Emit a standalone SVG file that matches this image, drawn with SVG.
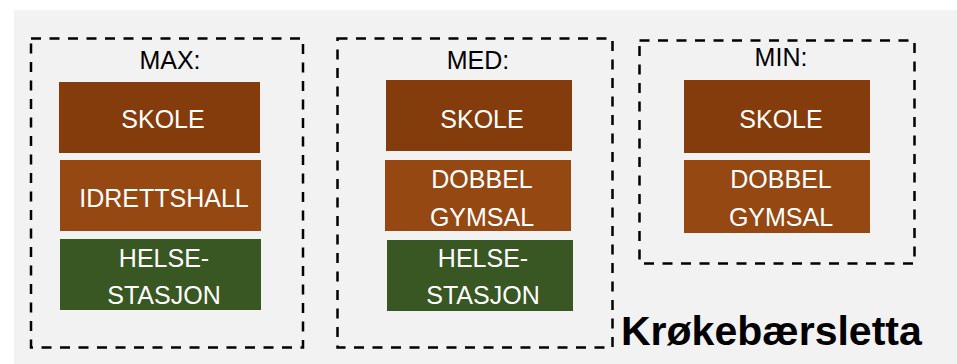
<svg xmlns="http://www.w3.org/2000/svg" width="957" height="364" viewBox="0 0 957 364">
<style>
.frame{fill:none;stroke:#000;stroke-width:2.5;stroke-dasharray:10 8.5}
.hd{font-family:"Liberation Sans",Arial,sans-serif;font-size:25px;fill:#000;text-anchor:middle}
.lb{font-family:"Liberation Sans",Arial,sans-serif;font-size:25px;fill:#fff;text-anchor:middle}
.skole{fill:#843c0c}
.hall{fill:#964813}
.helse{fill:#385723}
.title{font-family:"Liberation Sans",Arial,sans-serif;font-size:41px;font-weight:bold;fill:#000}
</style>
<rect x="0" y="0" width="957" height="364" fill="#ffffff"/>
<rect x="14" y="10" width="943" height="354" fill="#f2f2f2"/>
<g id="connectors"></g>
<g id="max">
<rect class="frame" x="31" y="38.5" width="272" height="309"/>
<text class="hd" x="170" y="69">MAX:</text>
</g>
<g id="max-skole"><rect class="skole" x="59" y="82" width="201" height="71"/><text class="lb" x="163" y="128">SKOLE</text></g>
<g id="max-idrettshall"><rect class="hall" x="60" y="160" width="201" height="71"/><text class="lb" x="164" y="207">IDRETTSHALL</text></g>
<g id="max-helse"><rect class="helse" x="60" y="239" width="201" height="71"/><text class="lb" x="164" y="267">HELSE-</text><text class="lb" x="164" y="304">STASJON</text></g>
<g id="med">
<rect class="frame" x="337.5" y="38.5" width="275" height="309"/>
<text class="hd" x="478" y="69">MED:</text>
</g>
<g id="med-skole"><rect class="skole" x="386" y="80" width="186" height="71"/><text class="lb" x="482" y="128">SKOLE</text></g>
<g id="med-gymsal"><rect class="hall" x="385" y="160" width="186" height="71"/><text class="lb" x="482" y="188">DOBBEL</text><text class="lb" x="482" y="226">GYMSAL</text></g>
<g id="med-helse"><rect class="helse" x="387" y="240" width="186" height="71"/><text class="lb" x="483" y="267">HELSE-</text><text class="lb" x="483" y="304">STASJON</text></g>
<g id="min">
<rect class="frame" x="639.5" y="40.5" width="275" height="223"/>
<text class="hd" x="781" y="66">MIN:</text>
</g>
<g id="min-skole"><rect class="skole" x="684" y="80" width="186" height="73"/><text class="lb" x="781" y="128">SKOLE</text></g>
<g id="min-gymsal"><rect class="hall" x="684" y="160" width="186" height="73"/><text class="lb" x="781" y="188">DOBBEL</text><text class="lb" x="781" y="226">GYMSAL</text></g>
<g id="title"><text class="title" x="621" y="345">Krøkebærsletta</text></g>
</svg>
